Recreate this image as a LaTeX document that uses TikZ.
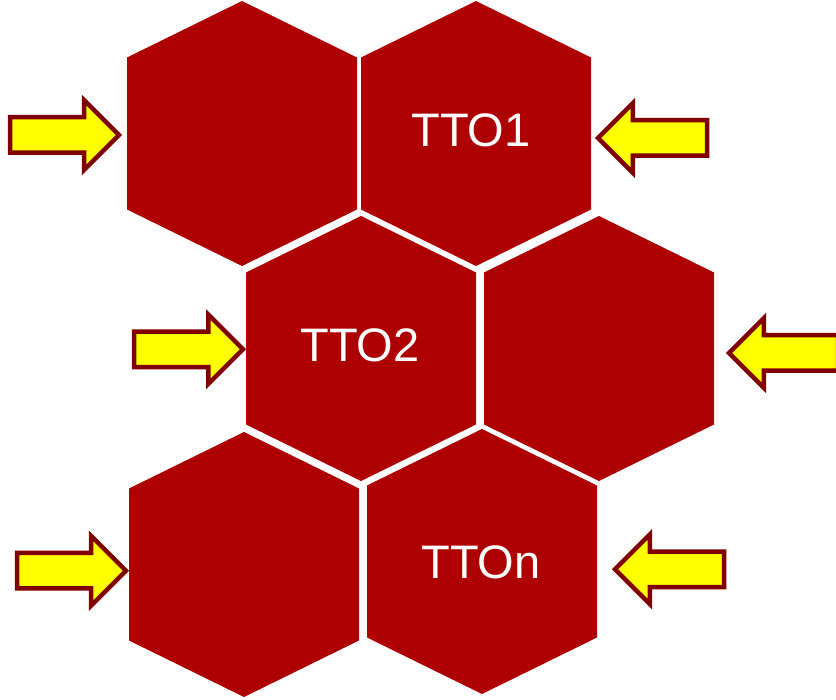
\documentclass[tikz,border=0pt]{standalone}
\usepackage{fontspec}
\setmainfont{Liberation Sans}
\usetikzlibrary{shapes.arrows}
\definecolor{CellRed}{HTML}{AE0000}
\definecolor{ArrowRed}{HTML}{800000}
\definecolor{ArrowYellow}{HTML}{FFFF00}

\tikzset{
  cell label/.style={text=white, font=\fontsize{47}{50}\selectfont, inner sep=0pt},
  in arrow/.style={single arrow, draw=ArrowRed, fill=ArrowYellow, line width=4.5pt,
    minimum height=109pt, minimum width=66pt, inner xsep=0pt, inner ysep=15.5pt,
    single arrow head extend=17pt, outer sep=0pt, anchor=tip},
  from right/.style={in arrow, shape border rotate=180}
}

\begin{document}
\begin{tikzpicture}[x=1pt, y=-1pt]
  \useasboundingbox (0,0) rectangle (836,700);
  % honeycomb cells
  \foreach \x/\y in {242/133.5, 476/133.5, 361/348.5, 599/348.5, 244/564.5, 482/561.5}
    \fill[CellRed] (\x,\y) ++(0,-132.5) -- ++(115,56.5) -- ++(0,152) -- ++(-115,56.5)
      -- ++(-115,-56.5) -- ++(0,-152) -- cycle;

  \node[cell label] (tto1) at (471,130) {TTO1};
  \node[cell label] (tto2) at (360,345.5) {TTO2};
  \node[cell label] (tton) at (481,562) {TTOn};

  % arrows, placed by their tips
  \node[in arrow] (a1) at (119,135) {};
  \node[from right] (a2) at (598,138) {};
  \node[in arrow] (a3) at (243,349.3) {};
  \node[from right] (a4) at (729,353) {};
  \node[in arrow] (a5) at (126,570.7) {};
  \node[from right] (a6) at (615,569.3) {};
\end{tikzpicture}
\end{document}
